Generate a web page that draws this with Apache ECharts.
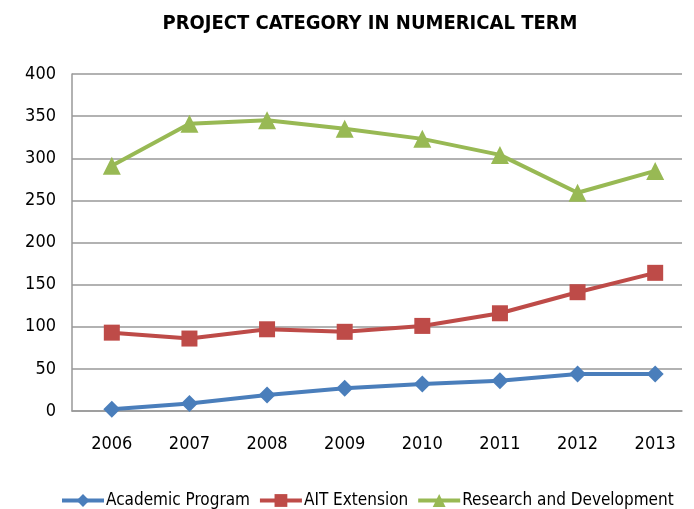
<!DOCTYPE html>
<html><head><meta charset="utf-8">
<script src="https://cdn.jsdelivr.net/npm/echarts@6/dist/echarts.min.js"></script>
<style>html,body{margin:0;padding:0;background:#fff}#c{width:694px;height:509px}</style>
</head><body><div id="c"></div>
<script>
const years = ['2006','2007','2008','2009','2010','2011','2012','2013'];
const academic = [2, 9, 19, 27, 32, 36, 44, 44];
const aitExtension = [93, 86, 97, 94, 101, 116, 141, 164];
const research = [291, 341, 345, 335, 323, 304, 259, 285];
const FONT = '"DejaVu Sans Condensed","Liberation Sans Narrow",sans-serif';
const chart = echarts.init(document.getElementById('c'));
chart.setOption({
  animation: false,
  textStyle: {fontFamily: FONT},
  title: {text: 'PROJECT CATEGORY IN NUMERICAL TERM', left: 365, textAlign: 'center', top: 9,
    textStyle: {fontFamily: FONT, fontSize: 20, fontWeight: 'bold', color: '#000'}},
  legend: {top: 487, left: 55, width: 660, itemWidth: 42, itemHeight: 16, itemGap: 8,
    lineStyle: {width: 4},
    textStyle: {fontFamily: FONT, fontSize: 17, color: '#000', padding: [0, 0, 0, -3]},
    data: ['Academic Program','AIT Extension','Research and Development']},
  grid: [
    {left: 72, right: 12, top: 74, bottom: 98},
    {left: 73, right: -4, top: 74, bottom: 98}
  ],
  xAxis: [
    {type: 'category', gridIndex: 0, data: [], axisLine: {lineStyle: {color: '#999', width: 1.5}},
      axisTick: {show: false}, axisLabel: {show: false}},
    {type: 'category', gridIndex: 1, data: years, boundaryGap: true,
      axisLine: {show: false}, axisTick: {show: false},
      axisLabel: {fontFamily: FONT, fontSize: 18, color: '#000', margin: 24}}
  ],
  yAxis: [
    {type: 'value', gridIndex: 0, min: 0, max: 400, interval: 50,
      axisLine: {show: true, lineStyle: {color: '#999', width: 1.5}},
      axisTick: {show: false},
      splitLine: {lineStyle: {color: '#999', width: 1.5}},
      axisLabel: {fontFamily: FONT, fontSize: 18, color: '#000', margin: 16}},
    {type: 'value', gridIndex: 1, min: 0, max: 400, interval: 50, show: false}
  ],
  series: [
    {name: 'Academic Program', type: 'line', xAxisIndex: 1, yAxisIndex: 1, data: academic, symbol: 'diamond', symbolSize: 17,
      lineStyle: {color: '#4a7ebb', width: 4}, itemStyle: {color: '#4a7ebb'}},
    {name: 'AIT Extension', type: 'line', xAxisIndex: 1, yAxisIndex: 1, data: aitExtension, symbol: 'rect', symbolSize: 16,
      lineStyle: {color: '#be4b48', width: 4}, itemStyle: {color: '#be4b48'}},
    {name: 'Research and Development', type: 'line', xAxisIndex: 1, yAxisIndex: 1, data: research, symbol: 'triangle', symbolSize: 18,
      lineStyle: {color: '#98b954', width: 4}, itemStyle: {color: '#98b954'}}
  ]
});
</script></body></html>
